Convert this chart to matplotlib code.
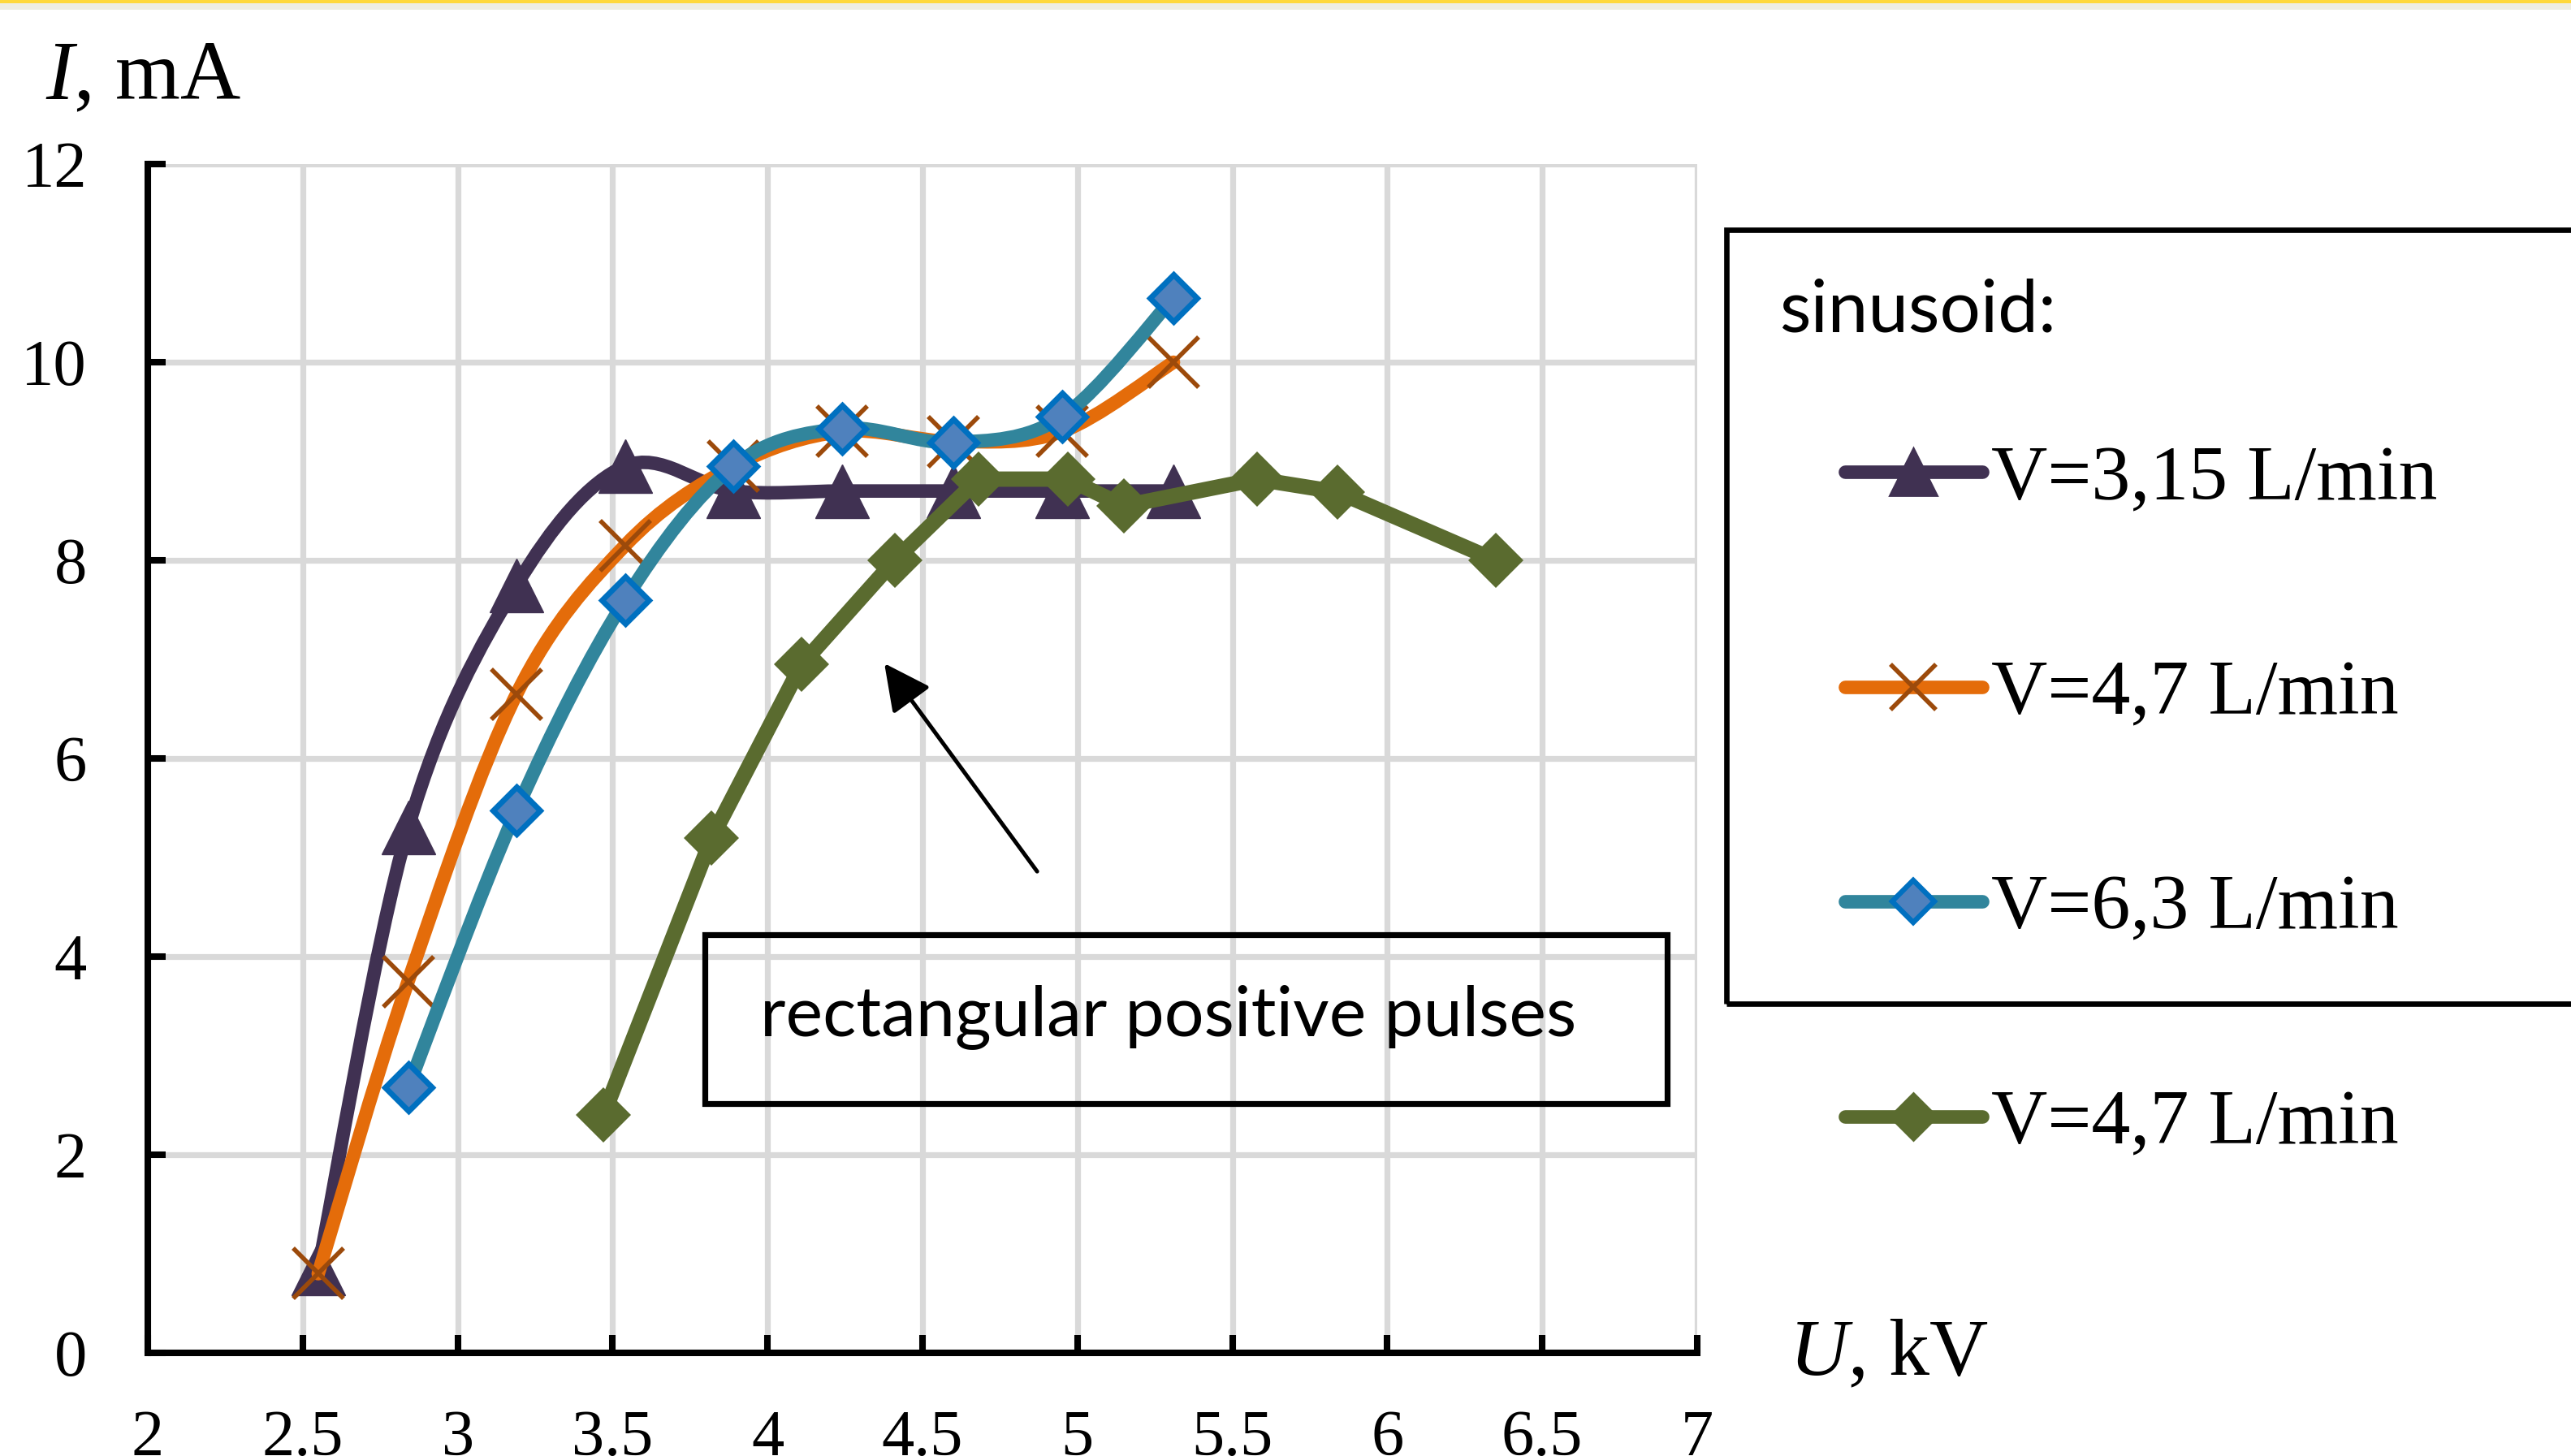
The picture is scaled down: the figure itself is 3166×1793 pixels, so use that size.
import numpy as np
import matplotlib.pyplot as plt
from matplotlib.path import Path
from matplotlib.patches import PathPatch, Rectangle
from matplotlib.lines import Line2D

plt.rcParams['mathtext.fontset'] = 'custom'
plt.rcParams['mathtext.it'] = 'Liberation Serif:italic'
plt.rcParams['mathtext.rm'] = 'Liberation Serif'

# sinusoid, V = 3,15 L/min
u_315 = [2.55, 2.84, 3.19, 3.54, 3.89, 4.24, 4.60, 4.95, 5.31]
i_315 = [0.85, 5.3, 7.75, 8.95, 8.7, 8.7, 8.7, 8.7, 8.7]
# sinusoid, V = 4,7 L/min
u_47 = [2.55, 2.84, 3.19, 3.54, 3.89, 4.24, 4.60, 4.95, 5.31]
i_47 = [0.8, 3.75, 6.65, 8.15, 8.95, 9.3, 9.2, 9.3, 10.0]
# sinusoid, V = 6,3 L/min
u_63 = [2.84, 3.19, 3.54, 3.89, 4.24, 4.60, 4.95, 5.31]
i_63 = [2.68, 5.48, 7.6, 8.95, 9.33, 9.19, 9.45, 10.65]
# rectangular positive pulses, V = 4,7 L/min
u_rect = [3.47, 3.82, 4.11, 4.41, 4.68, 4.97, 5.15, 5.58, 5.84, 6.35]
i_rect = [2.4, 5.2, 6.95, 8.0, 8.82, 8.82, 8.55, 8.82, 8.69, 8.0]

labels = ['V=3,15 L/min', 'V=4,7 L/min', 'V=6,3 L/min', 'V=4,7 L/min']
x_ticks = [2, 2.5, 3, 3.5, 4, 4.5, 5, 5.5, 6, 6.5, 7]
x_ticklabels = ['2', '2.5', '3', '3.5', '4', '4.5', '5', '5.5', '6', '6.5', '7']
y_ticks = [0, 2, 4, 6, 8, 10, 12]
y_ticklabels = ['0', '2', '4', '6', '8', '10', '12']

c_purple = '#403152'
c_orange = '#E46C0A'
c_xmark = '#9C4A0B'
c_teal = '#31859C'
c_dfill = '#4F81BD'
c_dedge = '#0070C0'
c_green = '#5A6B2F'


def smooth_path(x, y):
    # excel-like smoothed line: cubic bezier through the points
    p = np.column_stack([x, y]).astype(float)
    ext = np.vstack([p[0], p, p[-1]])
    verts = [p[0]]
    codes = [Path.MOVETO]
    for k in range(len(p) - 1):
        c1 = ext[k + 1] + (ext[k + 2] - ext[k]) / 6
        c2 = ext[k + 2] - (ext[k + 3] - ext[k + 1]) / 6
        verts += [c1, c2, p[k + 1]]
        codes += [Path.CURVE4] * 3
    return Path(verts, codes)


fig = plt.figure(figsize=(3166 / 200, 1793 / 200), dpi=200)
ax = fig.add_axes([0.0575, 0.0708, 0.6026, 0.8165])

lw = 6.0

ax.add_patch(PathPatch(smooth_path(u_315, i_315), fc='none', ec=c_purple, lw=lw,
                       capstyle='round', joinstyle='round', zorder=3))
ax.plot(u_315, i_315, ls='none', marker='^', ms=23.5, mfc=c_purple, mec=c_purple, mew=0.5, zorder=4)

ax.add_patch(PathPatch(smooth_path(u_47, i_47), fc='none', ec=c_orange, lw=lw,
                       capstyle='round', joinstyle='round', zorder=5))
ax.plot(u_47, i_47, ls='none', marker='x', ms=22, mec=c_xmark, mew=2.0, zorder=6)

ax.add_patch(PathPatch(smooth_path(u_63, i_63), fc='none', ec=c_teal, lw=lw,
                       capstyle='round', joinstyle='round', zorder=7))
ax.plot(u_63, i_63, ls='none', marker='D', ms=15, mfc=c_dfill, mec=c_dedge, mew=2.5, zorder=8)

ax.plot(u_rect, i_rect, color=c_green, lw=6.8, solid_capstyle='round', solid_joinstyle='round',
        marker='D', ms=17.5, mfc=c_green, mec=c_green, mew=0, zorder=9)

ax.set_xlim(2, 7)
ax.set_ylim(0, 12)
ax.set_xticks(x_ticks, labels=x_ticklabels, fontfamily='Liberation Serif', fontsize=29)
ax.set_yticks(y_ticks, labels=y_ticklabels, fontfamily='Liberation Serif', fontsize=29)
ax.tick_params(direction='in', length=8, width=2.9, color='black')
ax.tick_params(axis='x', pad=25)
ax.tick_params(axis='y', pad=27)
ax.grid(True, color='#D9D9D9', lw=2.6)
ax.set_axisbelow(True)
ax.spines[['top', 'right']].set_visible(False)
for s in ['left', 'bottom']:
    ax.spines[s].set_linewidth(2.9)

ax.annotate('', xy=(4.377, 6.96), xytext=(4.87, 4.86),
            arrowprops=dict(arrowstyle='-|>,head_length=0.4,head_width=0.2', mutation_scale=44,
                            lw=1.8, color='black', shrinkA=0, shrinkB=0), zorder=10)

# axis titles
fig.text(0.0177, 0.932, '$I$, mA', fontsize=37, family='Liberation Serif', va='baseline')
fig.text(0.6958, 0.0558, '$U$, kV', fontsize=36, family='Liberation Serif', va='baseline')

# top band
fig.add_artist(Rectangle((0, 1 - 4 / 1793), 1, 4 / 1793, transform=fig.transFigure,
                         fc='#FFD83B', ec='none'))
fig.add_artist(Rectangle((0, 1 - 12 / 1793), 1, 8 / 1793, transform=fig.transFigure,
                         fc='#EEEDE2', ec='none'))

# note box
fig.add_artist(Rectangle((0.2742, 0.242), 0.3743, 0.116, transform=fig.transFigure,
                         fill=False, lw=2.6, ec='black'))
fig.text(0.4545, 0.2889, 'rectangular positive pulses', ha='center', va='baseline',
         fontsize=31, family='Lato')

# legend
fig.add_artist(Rectangle((0.6715, 0.3107), 0.34, 0.5315, transform=fig.transFigure,
                         fill=False, lw=2.4, ec='black'))
fig.text(0.692, 0.7719, 'sinusoid:', fontsize=32, family='Lato', va='baseline')

handles = [
    Line2D([], [], color=c_purple, lw=lw, solid_capstyle='round', marker='^', ms=21,
           mfc=c_purple, mec=c_purple),
    Line2D([], [], color=c_orange, lw=lw, solid_capstyle='round', marker='x', ms=20,
           mec=c_xmark, mew=2.0),
    Line2D([], [], color=c_teal, lw=lw, solid_capstyle='round', marker='D', ms=13,
           mfc=c_dfill, mec=c_dedge, mew=2.3),
    Line2D([], [], color=c_green, lw=lw, solid_capstyle='round', marker='D', ms=15,
           mfc=c_green, mec=c_green),
]
fig.legend(handles, labels, loc='upper left', bbox_to_anchor=(0.7176, 0.6944), frameon=False,
           prop={'family': 'Liberation Serif', 'size': 34.5}, handlelength=1.76, handletextpad=0.12,
           labelspacing=1.85, borderpad=0, borderaxespad=0, numpoints=1)

fig.savefig('out.png', dpi=200)
